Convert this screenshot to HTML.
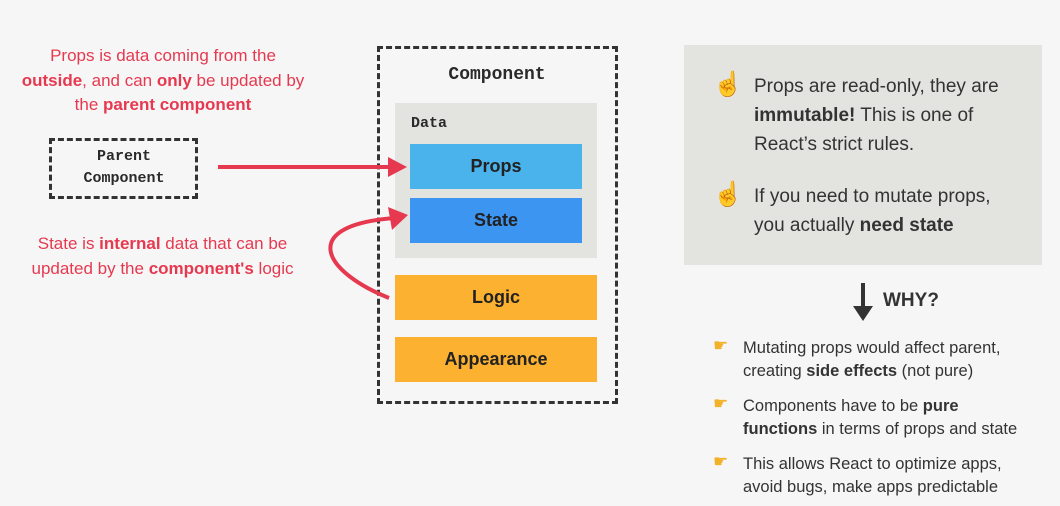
<!DOCTYPE html>
<html><head><style>
body{margin:0;width:1060px;height:506px;background:#f6f6f6;position:relative;overflow:hidden;font-family:"Liberation Sans",sans-serif}
.a{position:absolute}
.red{color:#e63950;font-size:17px;text-align:center;line-height:24.5px;font-weight:normal}
.red b{font-weight:bold}
.mono{font-family:"Liberation Mono",monospace;font-weight:bold;color:#2a2a2a}
.box{position:absolute;display:flex;align-items:center;justify-content:center;font-size:18px;color:#222;font-weight:600}
.rt{color:#333;font-size:19px;line-height:29px}
.bl{color:#333;font-size:16.5px;line-height:23px}
.em{position:absolute;font-size:24px;color:#f2b227}
</style></head><body>
<div class="a red" style="left:18px;top:44px;width:290px">Props is data coming from the<br><b>outside</b>, and can <b>only</b> be updated by<br>the <b>parent component</b></div>
<div class="a" style="left:49px;top:138px;width:143px;height:55px;border:3.5px dashed #333"></div>
<div class="a mono" style="left:52px;top:146px;width:144px;text-align:center;font-size:15px;line-height:22px">Parent<br>Component</div>
<div class="a red" style="left:10px;top:232px;width:305px">State is <b>internal</b> data that can be<br>updated by the <b>component's</b> logic</div>
<div class="a" style="left:377px;top:46px;width:235px;height:352px;border:3.5px dashed #333"></div>
<div class="a mono" style="left:377px;top:65px;width:240px;text-align:center;font-size:18px">Component</div>
<div class="a" style="left:395px;top:103px;width:202px;height:155px;background:#e3e3e0"></div>
<div class="a mono" style="left:411px;top:115px;font-size:15px">Data</div>
<div class="box" style="left:410px;top:144px;width:172px;height:45px;background:#4bb3ec">Props</div>
<div class="box" style="left:410px;top:198px;width:172px;height:45px;background:#3d95f2">State</div>
<div class="box" style="left:395px;top:275px;width:202px;height:45px;background:#fdb130">Logic</div>
<div class="box" style="left:395px;top:337px;width:202px;height:45px;background:#fdb130">Appearance</div>
<svg class="a" style="left:0;top:0" width="1060" height="506">
<line x1="218" y1="167" x2="390" y2="167" stroke="#e63950" stroke-width="4"/>
<polygon points="388,157 407,167 388,177" fill="#e63950"/>
<path d="M389 298 C 320 270, 300 225, 395 218" fill="none" stroke="#e63950" stroke-width="4"/>
<polygon points="388,207 408,215 392,230" fill="#e63950"/>
<line x1="863" y1="283" x2="863" y2="308" stroke="#333" stroke-width="4"/>
<polygon points="853,306 873,306 863,321" fill="#333"/>
</svg>
<div class="a" style="left:684px;top:45px;width:358px;height:220px;background:#e3e3e0"></div>
<div class="em" style="left:713px;top:70px">☝</div>
<div class="a rt" style="left:754px;top:72px">Props are read-only, they are<br><b>immutable!</b> This is one of<br>React’s strict rules.</div>
<div class="em" style="left:713px;top:180px">☝</div>
<div class="a rt" style="left:754px;top:182px">If you need to mutate props,<br>you actually <b>need state</b></div>
<div class="a" style="left:883px;top:290px;font-size:19px;font-weight:bold;color:#333">WHY?</div>
<div class="em" style="left:713px;top:336px;font-size:17px">☛</div>
<div class="a bl" style="left:743px;top:337px">Mutating props would affect parent,<br>creating <b>side effects</b> (not pure)</div>
<div class="em" style="left:713px;top:394px;font-size:17px">☛</div>
<div class="a bl" style="left:743px;top:395px">Components have to be <b>pure<br>functions</b> in terms of props and state</div>
<div class="em" style="left:713px;top:452px;font-size:17px">☛</div>
<div class="a bl" style="left:743px;top:453px">This allows React to optimize apps,<br>avoid bugs, make apps predictable</div>
</body></html>
